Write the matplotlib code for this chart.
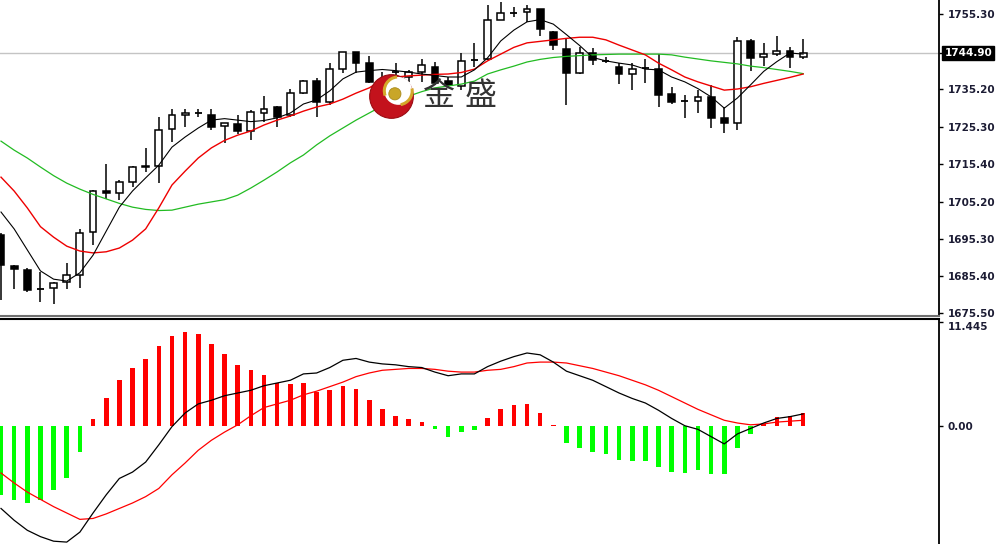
import numpy as np
import matplotlib.pyplot as plt
from matplotlib.patches import Rectangle, Circle, Arc

# candle data
opens = [1696.4, 1688.1, 1687.0, 1682.1, 1682.2, 1683.9, 1685.7, 1697.2, 1708.1, 1707.6,
         1710.6, 1714.9, 1714.9, 1724.6, 1728.4, 1729.0, 1728.4, 1725.4, 1725.9, 1724.2,
         1729.0, 1730.6, 1728.4, 1734.2, 1737.4, 1731.9, 1740.6, 1745.1, 1742.3, 1737.7,
         1739.8, 1738.4, 1739.8, 1741.2, 1737.4, 1736.2, 1743.0, 1743.2, 1753.7, 1755.6,
         1755.7, 1756.6, 1750.6, 1745.9, 1739.5, 1744.8, 1742.8, 1741.2, 1739.3, 1740.8,
         1740.6, 1733.9, 1732.2, 1732.2, 1733.2, 1727.5, 1726.3, 1748.1, 1743.8, 1744.6,
         1745.5, 1743.9]
highs = [1697.0, 1688.4, 1687.6, 1686.6, 1683.8, 1688.8, 1697.9, 1708.4, 1715.2, 1711.0,
         1714.8, 1719.7, 1727.9, 1730.0, 1730.0, 1730.0, 1730.0, 1726.2, 1728.4, 1729.7,
         1733.4, 1730.8, 1735.2, 1737.7, 1738.3, 1742.2, 1745.2, 1745.2, 1744.1, 1739.8,
         1742.3, 1740.4, 1743.2, 1742.5, 1738.6, 1745.0, 1747.5, 1757.7, 1758.6, 1757.2,
         1757.7, 1756.6, 1750.8, 1748.8, 1746.6, 1746.2, 1743.8, 1742.3, 1742.3, 1743.2,
         1744.7, 1735.9, 1733.7, 1735.0, 1736.4, 1730.4, 1749.1, 1748.6, 1747.5, 1749.4,
         1746.6, 1748.6]
lows = [1679.1, 1682.0, 1681.2, 1678.6, 1678.0, 1681.9, 1682.2, 1693.7, 1706.1, 1705.7,
        1709.2, 1713.2, 1710.3, 1721.2, 1725.1, 1727.9, 1724.4, 1721.0, 1723.2, 1721.7,
        1726.6, 1725.1, 1727.9, 1734.0, 1727.9, 1731.0, 1739.5, 1739.6, 1736.8, 1734.5,
        1737.7, 1737.2, 1737.2, 1736.4, 1735.9, 1735.0, 1741.2, 1743.0, 1753.6, 1754.4,
        1753.2, 1749.4, 1745.7, 1731.0, 1739.4, 1741.7, 1742.3, 1736.6, 1735.0, 1737.0,
        1730.4, 1731.4, 1727.5, 1728.8, 1724.8, 1723.5, 1724.4, 1740.2, 1741.4, 1744.1,
        1740.8, 1743.2]
closes = [1688.4, 1687.3, 1681.7, 1682.1, 1683.6, 1685.7, 1696.9, 1708.1, 1707.6, 1710.6,
          1714.6, 1714.5, 1724.4, 1728.4, 1729.0, 1729.0, 1725.3, 1726.2, 1724.1, 1729.1,
          1730.1, 1727.8, 1734.2, 1737.4, 1731.9, 1740.6, 1745.1, 1742.3, 1737.3, 1735.6,
          1739.8, 1739.9, 1741.7, 1737.0, 1736.4, 1742.8, 1743.0, 1753.7, 1755.5, 1755.6,
          1756.5, 1751.2, 1747.0, 1739.5, 1744.8, 1743.0, 1742.8, 1739.3, 1740.6, 1740.8,
          1733.8, 1731.9, 1732.2, 1733.2, 1727.5, 1726.3, 1748.1, 1743.5, 1744.6, 1745.5,
          1743.9, 1744.9]

# moving averages
ma_fast = [1702.5, 1698.0, 1692.4, 1686.8, 1684.6, 1684.1, 1686.3, 1691.0, 1697.4, 1703.8,
           1708.1, 1711.6, 1715.0, 1719.8, 1722.5, 1724.9, 1727.0, 1727.4, 1727.0, 1726.6,
           1726.9, 1727.6, 1728.9, 1731.3, 1732.4, 1734.8, 1738.0, 1739.8, 1740.2, 1740.5,
           1740.2, 1739.8, 1739.3, 1738.9, 1738.5, 1738.5, 1740.4, 1743.6, 1748.1, 1751.0,
           1753.2, 1753.8, 1752.6, 1749.8, 1746.9, 1743.7, 1742.8, 1742.2, 1741.7, 1740.6,
           1740.4, 1738.5, 1737.2, 1735.4, 1733.2, 1730.2, 1732.9, 1736.4, 1740.0, 1742.6,
           1744.9, 1744.6]
ma_mid = [1711.8, 1708.1, 1703.6, 1698.6, 1695.8, 1693.4, 1692.1, 1691.6, 1691.9, 1692.9,
          1695.0, 1698.0, 1703.6, 1709.7, 1713.4, 1716.9, 1719.6, 1721.6, 1723.0, 1724.1,
          1725.7, 1727.0, 1728.1, 1729.4, 1730.5, 1731.3, 1732.6, 1734.2, 1735.6, 1737.7,
          1738.5, 1738.8, 1739.0, 1739.2, 1739.3, 1739.7, 1740.6, 1742.8, 1744.6, 1746.4,
          1747.6, 1748.0, 1748.4, 1748.8, 1749.1, 1749.1, 1748.4, 1747.0, 1745.7, 1744.4,
          1742.2, 1740.4, 1738.5, 1737.2, 1736.1, 1735.0, 1735.3, 1735.9, 1736.8, 1737.6,
          1738.4, 1739.3]
ma_slow = [1721.4, 1719.0, 1716.9, 1714.5, 1712.2, 1710.2, 1708.6, 1707.2, 1706.0, 1704.8,
           1703.8, 1703.2, 1702.9, 1703.0, 1703.8, 1704.6, 1705.2, 1705.8, 1707.0, 1708.9,
           1711.0, 1713.2, 1715.6, 1717.7, 1720.4, 1722.8, 1724.9, 1727.0, 1728.9, 1730.8,
           1732.1, 1733.4, 1734.6, 1735.6, 1736.1, 1736.6, 1737.4, 1739.3, 1740.4, 1741.4,
           1742.5, 1743.2, 1743.7, 1744.0, 1744.2, 1744.4, 1744.5, 1744.6, 1744.6, 1744.6,
           1744.6, 1744.4, 1743.8, 1743.3, 1742.8, 1742.4, 1742.0, 1741.4, 1741.0, 1740.5,
           1740.0, 1739.4]

# MACD panel
macd_hist = [-7.6, -8.2, -8.5, -8.2, -7.1, -5.8, -2.9, 0.7, 3.1, 5.0,
             6.4, 7.3, 8.8, 9.9, 10.3, 10.1, 9.0, 7.9, 6.7, 6.1,
             5.6, 4.7, 4.6, 4.7, 3.7, 3.9, 4.4, 4.0, 2.8, 1.8,
             1.1, 0.7, 0.4, -0.4, -1.2, -0.7, -0.5, 0.9, 1.8, 2.3,
             2.4, 1.4, 0.1, -1.9, -2.4, -2.9, -3.1, -3.8, -3.9, -3.9,
             -4.5, -5.1, -5.2, -4.9, -5.3, -5.3, -2.4, -0.9, 0.2, 1.0,
             1.1, 1.4]
macd_line = [-9.1, -10.4, -11.5, -12.2, -12.7, -12.8, -11.7, -9.6, -7.6, -5.8,
             -5.1, -4.0, -2.1, -0.1, 1.4, 2.4, 2.8, 3.3, 3.6, 3.9,
             4.4, 4.7, 5.0, 5.7, 5.8, 6.4, 7.2, 7.4, 7.0, 6.8,
             6.7, 6.5, 6.4, 5.9, 5.5, 5.7, 5.7, 6.5, 7.1, 7.6,
             8.0, 7.8, 7.0, 6.0, 5.5, 5.0, 4.3, 3.6, 3.0, 2.5,
             1.7, 0.8, 0.0, -0.4, -1.2, -2.0, -0.9, -0.3, 0.3, 0.8,
             1.0, 1.3]
signal_line = [-5.2, -6.3, -7.3, -8.1, -8.9, -9.6, -10.3, -10.2, -9.7, -9.1,
               -8.5, -7.8, -6.9, -5.4, -4.1, -2.7, -1.6, -0.7, 0.1, 1.1,
               2.0, 2.4, 2.8, 3.4, 3.8, 4.3, 4.8, 5.4, 5.8, 6.1,
               6.2, 6.3, 6.3, 6.2, 6.0, 5.9, 5.9, 6.1, 6.2, 6.5,
               6.9, 7.0, 7.0, 6.9, 6.6, 6.3, 5.9, 5.5, 5.0, 4.5,
               3.9, 3.2, 2.5, 1.8, 1.2, 0.6, 0.3, 0.1, 0.2, 0.4,
               0.5, 0.6]

price_ticks = [1755.30, 1744.90, 1735.20, 1725.30, 1715.40, 1705.20, 1695.30, 1685.40, 1675.50]
last_price = 1744.90
macd_ticks = [0.0, 11.445]

W, H = 996, 544
fig = plt.figure(figsize=(W / 100, H / 100), dpi=100)
fig.patch.set_facecolor('white')


def px_axes(x0, y0, x1, y1):
    return fig.add_axes([x0 / W, 1 - y1 / H, (x1 - x0) / W, (y1 - y0) / H])


lbl_color = '#1c1c34'
tick_font = dict(family='DejaVu Sans', size=7.5, weight='bold')

# ---- price panel
ax1 = px_axes(0, 0, 939, 316)
idx = np.arange(len(opens))
body_w = 0.52
for i in idx:
    o, h, l, c = opens[i], highs[i], lows[i], closes[i]
    ax1.vlines(i, l, h, color='black', lw=1.1, zorder=2)
    if abs(o - c) < 0.3:
        ax1.hlines(o, i - body_w / 2, i + body_w / 2, color='black', lw=1.3, zorder=3)
    else:
        face = 'white' if c > o else 'black'
        ax1.add_patch(Rectangle((i - body_w / 2, min(o, c)), body_w, abs(c - o),
                                facecolor=face, edgecolor='black', lw=1.1, zorder=3))

ax1.plot(idx, ma_slow, color='#22bb22', lw=0.9, zorder=4)
ax1.plot(idx, ma_mid, color='#ee0000', lw=1.0, zorder=4)
ax1.plot(idx, ma_fast, color='black', lw=0.8, zorder=4)
ax1.axhline(last_price, color='#c4c4c4', lw=1.0, zorder=1)

ax1.set_xlim(-0.076, 71.33)
ax1.set_ylim(1674.78, 1759.03)
ax1.set_xticks([])
ax1.yaxis.tick_right()
ax1.set_yticks(price_ticks)
ax1.set_yticklabels(['' if t == last_price else f'{t:.2f}' for t in price_ticks])
ax1.tick_params(axis='y', direction='out', length=3, width=1, pad=3, colors='black',
                labelcolor=lbl_color)
for lab in ax1.get_yticklabels():
    lab.set_fontproperties(tick_font)
for s in ['left', 'top']:
    ax1.spines[s].set_visible(False)
ax1.spines['right'].set_linewidth(1.3)
ax1.spines['bottom'].set_color('#707070')
ax1.spines['bottom'].set_linewidth(1.5)

ax1.annotate(f'{last_price:.2f}', xy=(1.0, last_price),
             xycoords=('axes fraction', 'data'), xytext=(4, 0), textcoords='offset points',
             ha='left', va='center', color='white', fontsize=7.5, fontweight='bold',
             bbox=dict(boxstyle='square,pad=0.2', facecolor='black', edgecolor='black'),
             annotation_clip=False)

# ---- MACD panel
ax2 = px_axes(0, 319, 939, 544)
colors = ['#ff0000' if v > 0 else '#00ff00' for v in macd_hist]
ax2.bar(idx, macd_hist, width=0.35, color=colors, zorder=2)
ax2.plot(idx, signal_line, color='#ff0000', lw=0.9, zorder=3)
ax2.plot(idx, macd_line, color='black', lw=0.9, zorder=3)
ax2.set_xlim(-0.076, 71.33)
ax2.set_ylim(-13.01, 11.74)
ax2.set_xticks([])
ax2.yaxis.tick_right()
ax2.set_yticks(macd_ticks)
ax2.set_yticklabels(['0.00', '11.445'])
ax2.tick_params(axis='y', direction='out', length=3, width=1, pad=3, colors='black',
                labelcolor=lbl_color)
for lab in ax2.get_yticklabels():
    lab.set_fontproperties(tick_font)
ax2.get_yticklabels()[1].set_va('top')
for s in ['left', 'bottom']:
    ax2.spines[s].set_visible(False)
ax2.spines['right'].set_linewidth(1.3)
ax2.spines['top'].set_linewidth(1.5)

# ---- watermark logo
axl = px_axes(369, 74, 414, 119)
axl.set_xlim(-1, 1)
axl.set_ylim(-1, 1)
axl.set_aspect('equal')
axl.axis('off')
axl.add_patch(Circle((0, 0), 0.97, facecolor='#c3121c', edgecolor='#9a0c12', lw=0.8))
axl.add_patch(Circle((0.3, 0.25), 0.62, facecolor='white', edgecolor='none'))
axl.add_patch(Arc((0.3, 0.25), 1.24, 1.24, theta1=95, theta2=200, color='#d4a82a', lw=2.2))
axl.add_patch(Arc((0.3, 0.25), 1.24, 1.24, theta1=-80, theta2=10, color='#d4a82a', lw=2.2))
axl.add_patch(Circle((0.15, 0.12), 0.27, facecolor='#c9a628', edgecolor='#a88a1c', lw=0.6))

for ch, xc in [('金', 439), ('盛', 481)]:
    fig.text(xc / W, 1 - 96 / H, ch, ha='center', va='center', fontsize=23,
             color='#333333', family=['Noto Sans CJK SC', 'DejaVu Sans'])

fig.savefig('out.png', dpi=100)
